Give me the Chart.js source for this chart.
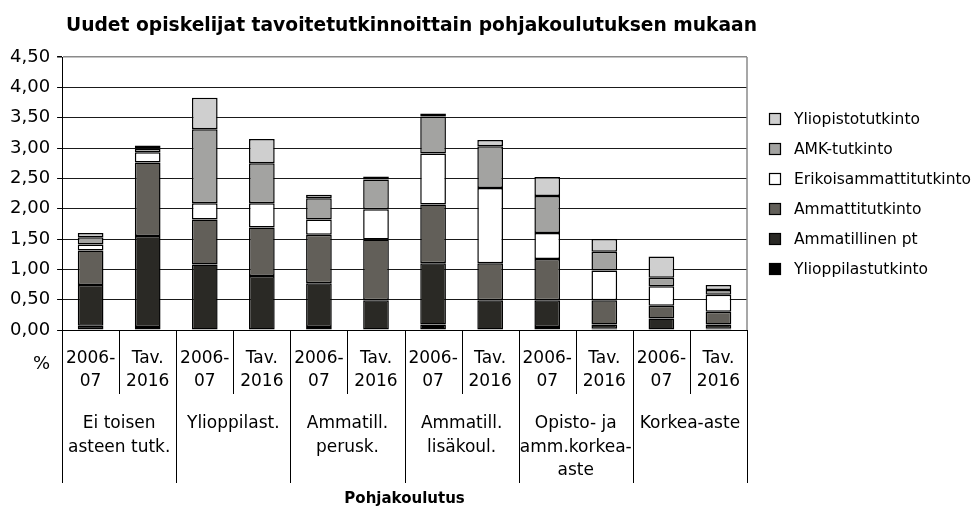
<!DOCTYPE html>
<html>
<head>
<meta charset="utf-8">
<script src="https://cdn.jsdelivr.net/npm/chart.js@4.4.1/dist/chart.umd.min.js"></script>
<style>
  html, body { margin: 0; padding: 0; background: #fff; }
  #wrap { width: 973px; height: 511px; }
</style>
</head>
<body>
<div id="wrap"><canvas id="chart" width="973" height="511"></canvas></div>
<script>
// kaksi ajankohtaa jokaisessa pohjakoulutusryhmässä
const periods = [
    ["2006-", "07"], ["Tav.", "2016"],
    ["2006-", "07"], ["Tav.", "2016"],
    ["2006-", "07"], ["Tav.", "2016"],
    ["2006-", "07"], ["Tav.", "2016"],
    ["2006-", "07"], ["Tav.", "2016"],
    ["2006-", "07"], ["Tav.", "2016"]
];
const groups = [
    ["Ei toisen", "asteen tutk."],
    ["Ylioppilast."],
    ["Ammatill.", "perusk."],
    ["Ammatill.", "lisäkoul."],
    ["Opisto- ja", "amm.korkea-", "aste"],
    ["Korkea-aste"]
];
const yTicks = [0, 0.5, 1, 1.5, 2, 2.5, 3, 3.5, 4, 4.5];

// osuudet (%) pinottuina, alhaalta ylös
const ylioppilastutkinto = [0.07, 0.05, 0, 0, 0.05, 0, 0.09, 0, 0.05, 0.02, 0, 0.02];
const ammatillinenPt = [0.67, 1.50, 1.08, 0.89, 0.72, 0.49, 1.01, 0.49, 0.44, 0.07, 0.19, 0.07];
const ammattitutkinto = [0.57, 1.21, 0.74, 0.80, 0.80, 1.00, 0.97, 0.61, 0.68, 0.40, 0.21, 0.21];
const erikoisammattitutkinto = [0.10, 0.17, 0.27, 0.40, 0.25, 0.50, 0.84, 1.24, 0.43, 0.49, 0.32, 0.28];
const amkTutkinto = [0.12, 0.06, 1.22, 0.66, 0.35, 0.49, 0.61, 0.69, 0.61, 0.31, 0.14, 0.08];
const yliopistotutkinto = [0.07, 0.05, 0.52, 0.40, 0.06, 0.05, 0.05, 0.10, 0.31, 0.21, 0.35, 0.08];

const seriesNames = ["Ylioppilastutkinto", "Ammatillinen pt", "Ammattitutkinto",
    "Erikoisammattitutkinto", "AMK-tutkinto", "Yliopistotutkinto"];
const seriesColors = ["#000000", "#2a2925", "#625f59", "#ffffff", "#a3a3a1", "#cfcfcf"];
const seriesData = [ylioppilastutkinto, ammatillinenPt, ammattitutkinto,
    erikoisammattitutkinto, amkTutkinto, yliopistotutkinto];

const FONT = "'DejaVu Sans', sans-serif";

const extras = {
    id: "extras",
    afterDraw(chart) {
        const ctx = chart.ctx;
        const a = chart.chartArea;
        const x = chart.scales.x;
        ctx.save();

        // oikea reuna
        ctx.strokeStyle = "#8a8a8a";
        ctx.lineWidth = 1.5;
        ctx.beginPath();
        ctx.moveTo(a.right, a.top);
        ctx.lineTo(a.right, a.bottom);
        ctx.stroke();

        // jakoviivat kategorioiden väliin
        ctx.strokeStyle = "#000";
        ctx.lineWidth = 1;
        const n = periods.length;
        for (let i = 0; i <= n; i++) {
            let px;
            if (i === 0) px = a.left;
            else if (i === n) px = a.right;
            else px = (x.getPixelForValue(i - 1) + x.getPixelForValue(i)) / 2;
            px = Math.round(px) + 0.5;
            const end = i % 2 === 0 ? a.bottom + 153 : a.bottom + 64;
            ctx.beginPath();
            ctx.moveTo(px, a.bottom);
            ctx.lineTo(px, end);
            ctx.stroke();
        }

        // ryhmien nimet
        ctx.fillStyle = "#000";
        ctx.font = "17px " + FONT;
        ctx.textAlign = "center";
        ctx.textBaseline = "alphabetic";
        groups.forEach((lines, g) => {
            const cx = (x.getPixelForValue(2 * g) + x.getPixelForValue(2 * g + 1)) / 2;
            lines.forEach((t, k) => ctx.fillText(t, cx, a.bottom + 98 + k * 23.5));
        });

        // "%"
        ctx.font = "18px " + FONT;
        ctx.textAlign = "right";
        ctx.fillText("%", a.left - 12, a.bottom + 39);

        // akselin otsikko
        ctx.font = "bold 15px " + FONT;
        ctx.textAlign = "center";
        ctx.fillText("Pohjakoulutus", (a.left + a.right) / 2, 503);

        // otsikko
        ctx.font = "bold 18.7px " + FONT;
        ctx.textAlign = "left";
        ctx.fillText("Uudet opiskelijat tavoitetutkinnoittain pohjakoulutuksen mukaan", 66, 31);

        // selite
        const midY = (a.top + a.bottom) / 2;
        ctx.font = "15.5px " + FONT;
        ctx.textBaseline = "middle";
        for (let k = 0; k < seriesNames.length; k++) {
            const idx = seriesNames.length - 1 - k;
            const cy = midY + (k - 2.5) * 30;
            const bx = Math.round(a.right + 22) + 0.5;
            const by = Math.round(cy - 5.5) + 0.5;
            ctx.fillStyle = seriesColors[idx];
            ctx.fillRect(bx, by, 11, 11);
            ctx.strokeStyle = "#000";
            ctx.lineWidth = 1.2;
            ctx.strokeRect(bx, by, 11, 11);
            ctx.fillStyle = "#000";
            ctx.fillText(seriesNames[idx], a.right + 47, cy + 1);
        }
        ctx.restore();
    }
};

const datasets = seriesNames.map((name, i) => ({
    label: name,
    data: seriesData[i],
    backgroundColor: seriesColors[i],
    borderColor: "#000",
    borderWidth: 1.5,
    borderSkipped: false,
    categoryPercentage: 1,
    barPercentage: 0.45
}));

new Chart(document.getElementById("chart"), {
    type: "bar",
    data: { labels: periods, datasets: datasets },
    plugins: [extras],
    options: {
        responsive: false,
        animation: false,
        layout: { padding: { top: 57, left: 3, right: 226, bottom: 101 } },
        plugins: {
            legend: { display: false },
            title: { display: false },
            tooltip: { enabled: false }
        },
        scales: {
            x: {
                stacked: true,
                grid: { display: false, drawTicks: false },
                border: { display: true, color: "#000", width: 1 },
                ticks: {
                    color: "#000",
                    font: { family: FONT, size: 17, lineHeight: 23 / 17 },
                    padding: 17,
                    maxRotation: 0,
                    autoSkip: false
                }
            },
            y: {
                stacked: true,
                min: 0,
                max: 4.5,
                afterBuildTicks: scale => { scale.ticks = yTicks.map(v => ({ value: v })); },
                grid: {
                    color: ctx => (ctx.tick && ctx.tick.value === 4.5 ? "#8a8a8a" : "#1a1a1a"),
                    lineWidth: ctx => (ctx.tick && ctx.tick.value === 4.5 ? 1.5 : 1),
                    tickLength: 5,
                    tickColor: "#000"
                },
                border: { display: true, color: "#000", width: 1 },
                ticks: {
                    color: "#000",
                    font: { family: FONT, size: 18 },
                    padding: 7,
                    callback: v => v.toFixed(2).replace(".", ",")
                }
            }
        }
    }
});
</script>
</body>
</html>
